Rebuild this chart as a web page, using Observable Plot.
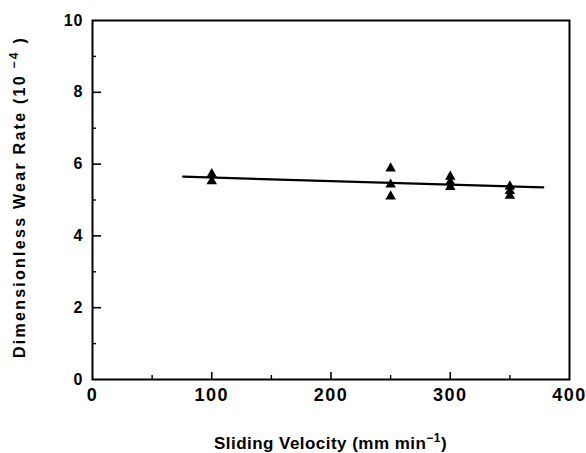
<!DOCTYPE html>
<html>
<head>
<meta charset="utf-8">
<script src="https://cdn.jsdelivr.net/npm/d3@7"></script>
<script src="https://cdn.jsdelivr.net/npm/@observablehq/plot@0.6"></script>
<style>
  html, body { margin: 0; padding: 0; background: #fff; }
  #chart svg { display: block; }
</style>
</head>
<body>
<div id="chart"></div>
<script>
// Data
const velocity = [100, 100, 250, 250, 250, 300, 300, 300, 350, 350, 350];
const wearRate = [5.72, 5.52, 5.88, 5.43, 5.10, 5.65, 5.50, 5.36, 5.38, 5.25, 5.12];
const fitVelocity = [76, 378];
const fitWear = [5.65, 5.35];
const xMajorTicks = [0, 100, 200, 300, 400];
const xMinorTicks = [50, 150, 250, 350];
const yMajorTicks = [0, 2, 4, 6, 8, 10];
const yMinorTicks = [1, 3, 5, 7, 9];
const xLabelText = ["Sliding Velocity (mm min", "\u22121", ")"];
const yLabelText = ["Dimensionless Wear Rate (10", " \u22124", " )"];

const points = velocity.map((v, i) => ({v, w: wearRate[i]}));
const fit = fitVelocity.map((v, i) => ({v, w: fitWear[i]}));

const W = 586, H = 453;
const ML = 92, MR = 17, MT = 20, MB = 74;
const font = "'Liberation Sans', Arial, Helvetica, sans-serif";

const plot = Plot.plot({
  width: W,
  height: H,
  marginLeft: ML,
  marginRight: MR,
  marginTop: MT,
  marginBottom: MB,
  style: {fontFamily: font, background: "#fff", color: "#000"},
  x: {domain: [0, 400]},
  y: {domain: [0, 10]},
  marks: [
    Plot.frame({stroke: "#000", strokeWidth: 2}),
    // tick labels
    Plot.axisX({ticks: xMajorTicks, tickSize: 0, tickPadding: 9, label: null, fontSize: 18, fontWeight: "bold"}),
    Plot.axisY({ticks: yMajorTicks, tickSize: 0, tickPadding: 9, label: null, fontSize: 16, fontWeight: "bold"}),
    // inward ticks (shifted inside the frame)
    Plot.axisX({ticks: xMajorTicks.slice(1, -1), tickSize: 7, dy: -7, tickFormat: () => "", label: null, strokeWidth: 1.6}),
    Plot.axisX({ticks: xMinorTicks, tickSize: 4, dy: -4, tickFormat: () => "", label: null, strokeWidth: 1.4}),
    Plot.axisY({ticks: yMajorTicks.slice(1, -1), tickSize: 9, dx: 9, tickFormat: () => "", label: null, strokeWidth: 1.6}),
    Plot.axisY({ticks: yMinorTicks, tickSize: 4, dx: 4, tickFormat: () => "", label: null, strokeWidth: 1.4}),
    Plot.line(fit, {x: "v", y: "w", stroke: "#000", strokeWidth: 2.2}),
    Plot.dot(points, {x: "v", y: "w", symbol: "triangle", r: 3.9, fill: "#000", stroke: "none"})
  ]
});

document.getElementById("chart").appendChild(plot);

const svg = d3.select(plot);
// wider letter spacing on tick labels, as in the scanned original
svg.selectAll('g[aria-label="x-axis tick label"] text').attr("letter-spacing", 1.5);
svg.selectAll('g[aria-label="y-axis tick label"] text').attr("letter-spacing", 1);

function spread(textSel, target) {
  const n = textSel.text().length;
  const len = textSel.node().getComputedTextLength();
  textSel.attr("letter-spacing", Math.max(0, (target - len) / n));
}

// axis titles with superscripts
const xt = svg.append("text")
  .attr("x", (ML + (W - MR)) / 2)
  .attr("y", 449)
  .attr("text-anchor", "middle")
  .attr("font-family", font)
  .attr("font-size", 17)
  .attr("font-weight", "bold")
  .attr("fill", "#000");
xt.append("tspan").text(xLabelText[0]);
xt.append("tspan").attr("dy", -7).attr("font-size", 12).text(xLabelText[1]);
xt.append("tspan").attr("dy", 7).text(xLabelText[2]);
spread(xt, 233);

const yt = svg.append("text")
  .attr("transform", `translate(25,197) rotate(-90)`)
  .attr("text-anchor", "middle")
  .attr("font-family", font)
  .attr("font-size", 16)
  .attr("font-weight", "bold")
  .attr("fill", "#000");
yt.append("tspan").text(yLabelText[0]);
yt.append("tspan").attr("dy", -7).attr("font-size", 12).text(yLabelText[1]);
yt.append("tspan").attr("dy", 7).text(yLabelText[2]);
spread(yt, 322);
</script>
</body>
</html>
